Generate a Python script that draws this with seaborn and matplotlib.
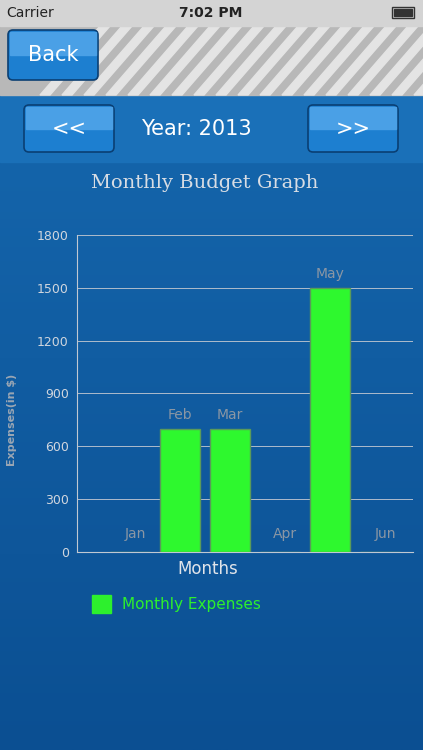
import matplotlib
matplotlib.use("Agg")
import matplotlib.pyplot as plt
import numpy as np
import pandas as pd
import seaborn as sns
from matplotlib.patches import FancyBboxPatch, Rectangle

MONTHS = ["Jan", "Feb", "Mar", "Apr", "May", "Jun"]
EXPENSES = [0, 700, 700, 0, 1500, 0]
Y_TICKS = [0, 300, 600, 900, 1200, 1500, 1800]

W, H = 423, 750
fig = plt.figure(figsize=(W / 100, H / 100), dpi=100)

# background canvas in pixel coordinates
bg = fig.add_axes([0, 0, 1, 1])
bg.set_xlim(0, W)
bg.set_ylim(H, 0)
bg.axis("off")

grad = np.linspace(0, 1, 256).reshape(-1, 1)
bg.imshow(grad, extent=(0, W, H, 162), cmap=matplotlib.colors.LinearSegmentedColormap.from_list(
    "b", ["#1464aa", "#0b4f92"]), aspect="auto", zorder=0)
bg.add_patch(Rectangle((0, 95), W, 67, color="#1a70b8", zorder=1))
bg.add_patch(Rectangle((0, 26), W, 69, color="#b8b8b8", zorder=1))
for x0 in range(100, W + 60, 22):
    bg.fill([x0, x0 + 10, x0 - 50, x0 - 60], [26, 26, 95, 95], color="#e4e4e4", zorder=1.5)
bg.add_patch(Rectangle((0, 0), W, 26, color="#d4d4d4", zorder=2))
bg.text(6, 13, "Carrier", fontsize=10, va="center", color="#222222", zorder=3)
bg.text(211, 13, "7:02 PM", fontsize=10, va="center", ha="center", color="#222222",
        fontweight="bold", zorder=3)
bg.add_patch(Rectangle((392, 7), 22, 11, fill=False, ec="#333333", lw=1, zorder=3))
bg.add_patch(Rectangle((394, 9), 18, 7, color="#333333", zorder=3))


def button(x, y, w, h, label, size):
    bg.add_patch(FancyBboxPatch((x, y), w, h, boxstyle="round,pad=0,rounding_size=5",
                                fc="#1d7fd0", ec="#0a3f73", lw=1.2, zorder=4))
    bg.add_patch(Rectangle((x + 2, y + 2), w - 4, h / 2 - 2, color="#4aa0e6", zorder=4.5))
    bg.text(x + w / 2, y + h / 2, label, ha="center", va="center", color="white",
            fontsize=size, zorder=5)


button(8, 30, 90, 50, "Back", 15)
button(24, 105, 90, 47, "<<", 15)
button(308, 105, 90, 47, ">>", 15)
bg.text(196, 129, "Year: 2013", ha="center", va="center", color="white", fontsize=15, zorder=5)
bg.text(205, 183, "Monthly Budget Graph", ha="center", va="center", color="#d8dde4",
        fontsize=14, family="DejaVu Serif", zorder=5)
bg.text(12, 420, "Expenses(in $)", rotation=90, ha="center", va="center", color="#9aa6b4",
        fontsize=8, fontweight="bold", zorder=5)
bg.text(208, 569, "Months", ha="center", va="center", color="#e0e4ea", fontsize=12, zorder=5)
bg.add_patch(Rectangle((92, 595), 19, 18, color="#2df02d", zorder=5))
bg.text(122, 604, "Monthly Expenses", va="center", color="#2df02d", fontsize=11, zorder=5)

# chart axes: x 77..413 px, y 552 (0) .. 235 (1800)
ax = fig.add_axes([77 / W, 1 - 552 / H, 336 / W, (552 - 235) / H])
ax.patch.set_alpha(0)
df = pd.DataFrame({"month": MONTHS, "expenses": EXPENSES})
sns.barplot(data=df, x="month", y="expenses", color="#2ef82e", saturation=1,
            width=0.8, ax=ax, zorder=3, edgecolor="#5a9a5a", linewidth=1)
ax.set_ylim(0, 1800)
ax.set_xlim(-1.06, 5.66)
ax.set_yticks(Y_TICKS)
ax.set_yticklabels([str(t) for t in Y_TICKS], color="#d0d6de", fontsize=9)
ax.set_xticks([])
ax.set_xlabel("")
ax.set_ylabel("")
ax.grid(axis="y", color="#aebccc", lw=0.7, zorder=0)
for side in ["top", "right"]:
    ax.spines[side].set_visible(False)
for side in ["left", "bottom"]:
    ax.spines[side].set_color("#c0c8d2")
ax.tick_params(axis="y", length=0, pad=6)
for i, (m, v) in enumerate(zip(MONTHS, EXPENSES)):
    if v > 0:
        ax.text(i, v + 40, m, ha="center", va="bottom", color="#8a96a4", fontsize=10)
    else:
        ax.text(i + 0.1, 60, m, ha="center", va="bottom", color="#8a96a4", fontsize=10)

fig.savefig("out.png", dpi=100)
